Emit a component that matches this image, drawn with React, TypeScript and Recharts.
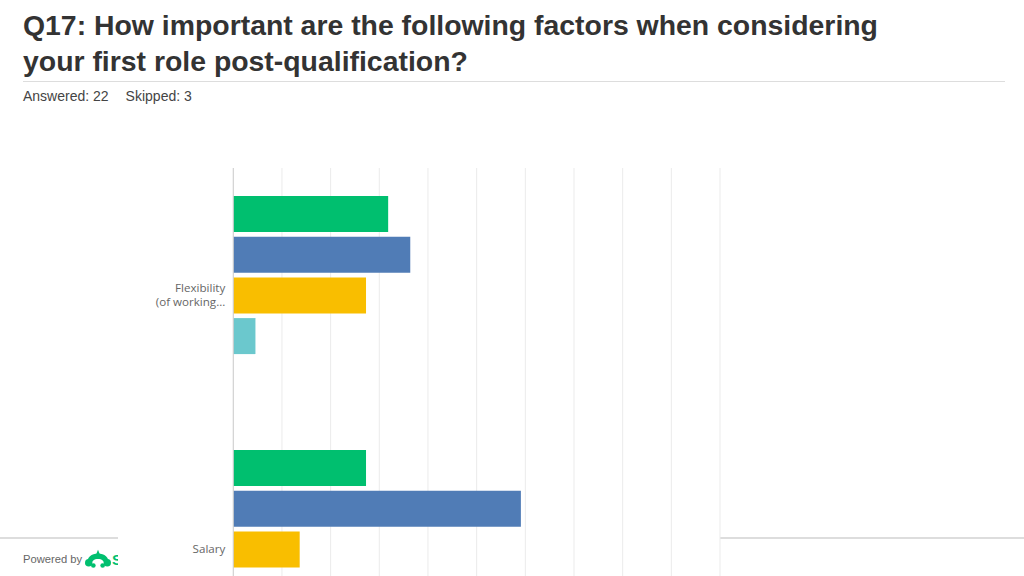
import React from "react";
import { BarChart, Bar, XAxis, YAxis, CartesianGrid } from "recharts";

// answer choices (legend is off-screen in the reference)
const seriesNames = [
  "Very important",
  "Important",
  "Somewhat important",
  "Not so important",
  "Not at all important",
];
const seriesColors = ["#00BF6F", "#507CB6", "#F9BE00", "#6BC8CD", "#FF8B4F"];

const categories = ["Flexibility\n(of working...", "Salary"];

// percent of respondents (22 answered)
const flexibility = [31.82, 36.36, 27.27, 4.55, 0];
const salary = [27.27, 59.09, 13.64, 0, 0];

const xTicks = [0, 10, 20, 30, 40, 50, 60, 70, 80, 90, 100];

const rows = [flexibility, salary];

const data = categories.map((name, i) => {
  const row: Record<string, string | number> = { name };
  seriesNames.forEach((s, j) => {
    row[s] = rows[i][j];
  });
  return row;
});

const FONT = "'Liberation Sans', Arial, Helvetica, sans-serif";

function CategoryTick(props: any) {
  const { x, y, payload } = props;
  const lines = String(payload.value).split("\n");
  const first = -((lines.length - 1) * 14) / 2 + 4;
  return (
    <text
      x={x}
      y={y}
      textAnchor="end"
      fill="#666"
      fontSize={11.6}
      fontFamily="'Open Sans', sans-serif"
    >
      {lines.map((l, i) => (
        <tspan key={i} x={x} dy={i === 0 ? first : 14}>
          {l}
        </tspan>
      ))}
    </text>
  );
}

export default function App() {
  return (
    <div
      style={{
        position: "fixed",
        left: 0,
        top: 0,
        width: 1024,
        height: 576,
        overflow: "hidden",
        background: "#fff",
        fontFamily: FONT,
      }}
    >
      <div
        style={{
          position: "absolute",
          left: 23,
          top: 7,
          fontSize: 28.4,
          fontWeight: 700,
          lineHeight: "36px",
          color: "#333",
          whiteSpace: "nowrap",
        }}
      >
        Q17: How important are the following factors when considering
        <br />
        your first role post-qualification?
      </div>
      <div
        style={{
          position: "absolute",
          left: 23,
          top: 81,
          width: 982,
          height: 1,
          background: "#ddd",
        }}
      />
      <div
        style={{
          position: "absolute",
          left: 23,
          top: 88,
          fontSize: 14,
          color: "#444",
          whiteSpace: "pre",
        }}
      >
        <span>Answered: 22</span>
        <span style={{ marginLeft: 17 }}>Skipped: 3</span>
      </div>

      {/* footer */}
      <div
        style={{
          position: "absolute",
          left: 0,
          top: 537,
          width: 1024,
          height: 2,
          background: "#ddd",
        }}
      />
      <div
        style={{
          position: "absolute",
          left: 23,
          top: 548,
          width: 95,
          height: 22,
          overflow: "hidden",
          fontSize: 11.2,
          color: "#666",
          display: "flex",
          alignItems: "center",
          whiteSpace: "nowrap",
        }}
      >
        <span>Powered by</span>
        <svg width="26" height="20" viewBox="0 0 28 20" style={{ marginLeft: 3, flexShrink: 0 }}>
          <path
            d="M2 16 C2 8 7 4 14 4 C21 4 26 8 26 16 L21 16 C21 12 18 10 14 10 C10 10 7 12 7 16 Z"
            fill="#00BF6F"
          />
          <circle cx="4" cy="14" r="4" fill="#00BF6F" />
          <circle cx="24" cy="14" r="4" fill="#00BF6F" />
          <circle cx="9" cy="17" r="2.5" fill="#00BF6F" />
          <circle cx="19" cy="17" r="2.5" fill="#00BF6F" />
          <path d="M12 5 L14 0 L16 5 Z" fill="#00BF6F" />
        </svg>
        <span style={{ color: "#00BF6F", fontWeight: 700, fontSize: 15, marginLeft: 1 }}>
          S
        </span>
      </div>

      {/* chart box */}
      <div
        style={{
          position: "absolute",
          left: 118,
          top: 130,
          width: 602,
          height: 446,
          background: "#fff",
        }}
      >
        <div style={{ position: "absolute", left: 0, top: 38 }}>
          <BarChart
            width={603}
            height={538}
            data={data}
            layout="vertical"
            margin={{ top: 0, right: 1, left: 0, bottom: 0 }}
            barSize={36}
            barGap={4.7}
          >
            <CartesianGrid horizontal={false} stroke="#ebebeb" />
            <XAxis
              type="number"
              domain={[0, 100]}
              ticks={xTicks}
              axisLine={false}
              tickLine={false}
              tick={() => <g />}
              height={30}
            />
            <YAxis
              type="category"
              dataKey="name"
              width={115.3}
              axisLine={{ stroke: "#cfcfcf" }}
              tickLine={false}
              tick={<CategoryTick />}
              interval={0}
            />
            {seriesNames.map((s, i) => (
              <Bar
                key={s}
                dataKey={s}
                fill={seriesColors[i]}
                isAnimationActive={false}
              />
            ))}
          </BarChart>
        </div>
      </div>
    </div>
  );
}
